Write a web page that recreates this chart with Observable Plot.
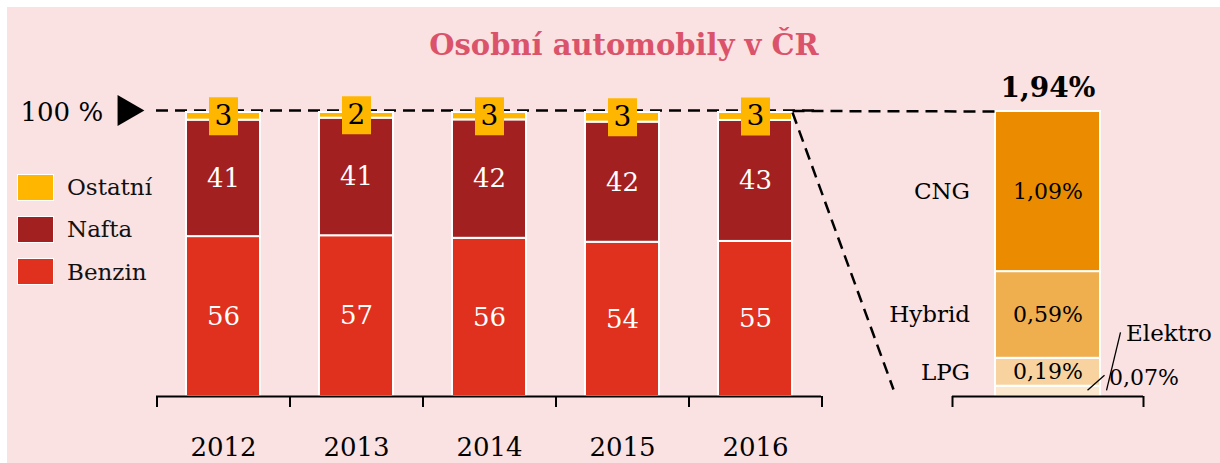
<!DOCTYPE html>
<html><head><meta charset="utf-8">
<script src="https://cdn.jsdelivr.net/npm/d3@7"></script>
<script src="https://cdn.jsdelivr.net/npm/@observablehq/plot@0.6"></script>
<style>
html,body{margin:0;padding:0;background:#fff;}
#wrap{position:relative;width:1220px;height:463px;overflow:hidden;background:#fff;font-family:"DejaVu Serif",serif;}
#bg{position:absolute;left:7px;top:7px;right:0;bottom:0;background:#FAE1E2;}
#title{position:absolute;left:624px;top:28px;transform:translateX(-50%);white-space:nowrap;font-size:29px;line-height:34px;font-weight:bold;color:#DB536A;}
.leg{position:absolute;left:17px;height:28px;display:flex;align-items:center;}
.sw{width:35px;height:25px;border:1.5px solid #fff;}
.lt{position:absolute;left:50px;white-space:nowrap;font-size:23px;line-height:28px;color:#111;}
svg.layer{position:absolute;top:0;}
</style></head><body>
<div id="wrap"><div id="bg"></div><div id="title">Osobní automobily v ČR</div></div>
<script>
// ---- data ----
const years = ["2012", "2013", "2014", "2015", "2016"];
const fuelTypes = ["Benzin", "Nafta", "Ostatní"];
const fuelColors = ["#E0301E", "#A32020", "#FFB600"];
const benzin = [56.3, 56.6, 55.7, 54.3, 54.6];
const nafta = [41.0, 41.4, 41.7, 42.3, 42.6];
const ostatni = [2.7, 2.0, 2.6, 3.4, 2.8];
const fullLabel = "100 %";

const altTypes = ["Elektro", "LPG", "Hybrid", "CNG"];
const altValues = [0.07, 0.19, 0.59, 1.09];
const altLabels = ["0,07%", "0,19%", "0,59%", "1,09%"];
const altColors = ["#FBE8CE", "#F8D3A0", "#F0AF4F", "#EB8C00"];
const altGroup = "Alternativní";
const altTotalLabel = "1,94%";

// ---- tables ----
const series = [benzin, nafta, ostatni];
const rows = years.flatMap((year, i) => fuelTypes.map((type, j) => ({year, type, value: series[j][i]})));
const altRows = altTypes.map((type, i) => ({group: altGroup, type, value: altValues[i], label: altLabels[i]}));
const altTotal = d3.sum(altValues);

const FONT = '"DejaVu Serif", serif';
const wrap = document.getElementById("wrap");

// legend
[...fuelTypes].reverse().forEach((t, i) => {
  const d = document.createElement("div");
  d.className = "leg";
  d.style.top = (173 + i * 42.3) + "px";
  const sw = document.createElement("div");
  sw.className = "sw";
  sw.style.background = fuelColors[fuelTypes.indexOf(t)];
  const lt = document.createElement("div");
  lt.className = "lt";
  lt.textContent = t;
  d.appendChild(sw); d.appendChild(lt);
  wrap.appendChild(d);
});

// ---- main chart ----
const mL = 156, mR = 19, mW = 840;
const step = (mW - mR - mL) / years.length;
const boxSymbol = {draw(ctx) { ctx.rect(-14.5, -19, 29, 38); }};
const stackOpts = {x: "year", y: "value", z: "type", order: fuelTypes};

const main = Plot.plot({
  width: mW, height: 463,
  marginLeft: mL, marginRight: mR, marginTop: 112, marginBottom: 67,
  style: {background: "transparent", fontFamily: FONT, overflow: "visible"},
  x: {domain: years, paddingInner: 0.444, paddingOuter: 0.222, label: null},
  y: {domain: [0, 100], axis: null},
  color: {domain: fuelTypes, range: fuelColors},
  marks: [
    Plot.ruleY([100], {stroke: "#000", strokeWidth: 2.5, strokeDasharray: "12,7", dy: -2}),
    Plot.barY(rows, Plot.stackY({...stackOpts, fill: "type", stroke: "#fff", strokeWidth: 2})),
    Plot.dot(rows, Plot.filter(d => d.type === "Ostatní", Plot.stackY({...stackOpts, symbol: boxSymbol, fill: "#FFB600", stroke: "none"}))),
    Plot.text(rows, Plot.filter(d => d.type !== "Ostatní", Plot.stackY({...stackOpts, text: d => String(Math.round(d.value)), fill: "#fff", fontSize: 26}))),
    Plot.text(rows, Plot.filter(d => d.type === "Ostatní", Plot.stackY({...stackOpts, text: d => String(Math.round(d.value)), fill: "#000", fontSize: 28}))),
    Plot.ruleY([0], {stroke: "#000", strokeWidth: 2}),
    Plot.ruleX(years, {x: d => d, y1: 0, y2: 0, insetBottom: -11, dx: -step / 2, stroke: "#000", strokeWidth: 2}),
    Plot.ruleX(years.slice(-1), {x: d => d, y1: 0, y2: 0, insetBottom: -11, dx: step / 2, stroke: "#000", strokeWidth: 2}),
    Plot.axisX({tickSize: 0, tickPadding: 41, fontSize: 26, fill: "#000", label: null}),
    Plot.text([fullLabel], {text: d => d, frameAnchor: "left", y: 100, dx: -136, textAnchor: "start", fontSize: 26, fill: "#000"}),
    Plot.dot([fullLabel], {frameAnchor: "left", y: 100, dx: -30, dy: -2, symbol: "triangle", rotate: 90, r: 11.5, fill: "#000", stroke: "none"})
  ]
});
main.classList.add("layer");
main.style.left = "0px";
wrap.appendChild(main);

// ---- alternative fuels chart ----
const OFF = 700;
const aStack = {x: "group", y: "value", z: "type", order: altTypes};
const alt = Plot.plot({
  width: 520, height: 463,
  marginLeft: 252, marginRight: 77, marginTop: 111, marginBottom: 67,
  style: {background: "transparent", fontFamily: FONT, overflow: "visible"},
  x: {domain: [altGroup], paddingInner: 0.45, paddingOuter: 0.225, axis: null},
  y: {domain: [0, altTotal], axis: null},
  color: {domain: altTypes, range: altColors},
  marks: [
    Plot.barY(altRows, Plot.stackY({...aStack, fill: "type", stroke: "#fff", strokeWidth: 2})),
    Plot.text(altRows, Plot.filter(d => d.type !== "Elektro", Plot.stackY({...aStack, text: "label", fill: "#000", fontSize: 22}))),
    Plot.text(altRows, Plot.filter(d => d.type !== "Elektro", Plot.stackY({...aStack, text: "type", fill: "#000", fontSize: 23, textAnchor: "end", dx: -78}))),
    Plot.text(altRows, Plot.filter(d => d.type === "Elektro", Plot.stackY({...aStack, text: "label", fill: "#000", fontSize: 22, textAnchor: "start", dx: 61, dy: -13}))),
    Plot.text(altRows, Plot.filter(d => d.type === "Elektro", Plot.stackY({...aStack, text: "type", fill: "#000", fontSize: 23, textAnchor: "start", dx: 78, dy: -58}))),
    Plot.text([altTotalLabel], {x: () => altGroup, y: () => altTotal, text: d => d, dy: -23, fontSize: 28, fontWeight: "bold", fill: "#000"}),
    Plot.ruleY([0], {stroke: "#000", strokeWidth: 2}),
    Plot.ruleX([altGroup], {x: d => d, y1: 0, y2: 0, insetBottom: -11, dx: -95.5, stroke: "#000", strokeWidth: 2}),
    Plot.ruleX([altGroup], {x: d => d, y1: 0, y2: 0, insetBottom: -11, dx: 95.5, stroke: "#000", strokeWidth: 2})
  ]
});
alt.classList.add("layer");
alt.style.left = OFF + "px";
wrap.appendChild(alt);

// ---- connectors (from the two charts' scales) ----
const mx = main.scale("x"), my = main.scale("y");
const ax = alt.scale("x"), ay = alt.scale("y");
const lastRight = mx.apply(years[years.length - 1]) + mx.bandwidth;
const altLeft = OFF + ax.apply(altGroup);
const altCenter = altLeft + ax.bandwidth / 2;
const altAxisLeft = OFF + ax.range[0];
const elektroMid = ay.apply(altValues[0] / 2);
const dashed = [
  {x1: lastRight, y1: my.apply(100) - 1.5, x2: altLeft, y2: ay.apply(altTotal)},
  {x1: lastRight, y1: my.apply(100), x2: altAxisLeft - 59, y2: ay.apply(0) - 7}
];
const leaders = [
  {x1: altCenter + 39.5, y1: elektroMid - 1, x2: altCenter + 56.5, y2: elektroMid - 16},
  {x1: altCenter + 58.5, y1: elektroMid - 1, x2: altCenter + 72.5, y2: elektroMid - 59}
];
const overlay = Plot.plot({
  width: 1220, height: 463, margin: 0,
  style: {background: "transparent", overflow: "visible"},
  x: {type: "identity", axis: null}, y: {type: "identity", axis: null},
  marks: [
    Plot.link(dashed, {x1: "x1", y1: "y1", x2: "x2", y2: "y2", stroke: "#000", strokeWidth: 2.5, strokeDasharray: "12,7"}),
    Plot.link(leaders, {x1: "x1", y1: "y1", x2: "x2", y2: "y2", stroke: "#000", strokeWidth: 1.3})
  ]
});
overlay.classList.add("layer");
overlay.style.left = "0px";
overlay.style.pointerEvents = "none";
wrap.appendChild(overlay);
</script>
</body></html>
